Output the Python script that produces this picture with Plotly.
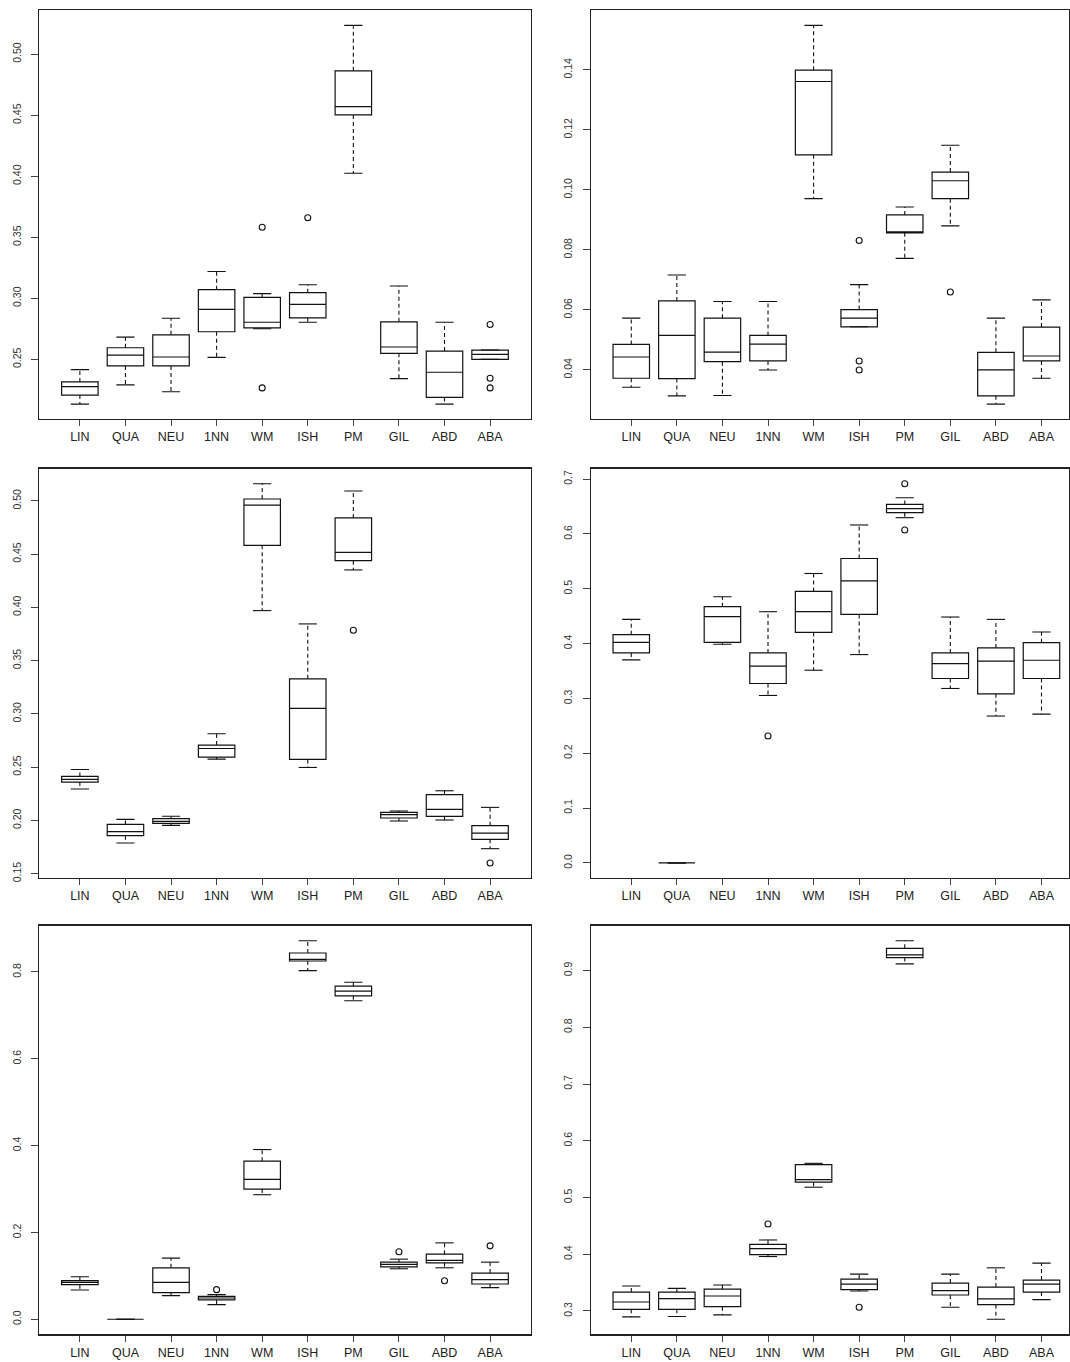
import plotly.graph_objects as go

categories = ["LIN", "QUA", "NEU", "1NN", "WM", "ISH", "PM", "GIL", "ABD", "ABA"]

# ---------------- Panel 1 (top-left) ----------------
p1_lower  = [0.2133, 0.2291, 0.2234, 0.2516, 0.2750, 0.2804, 0.4025, 0.2342, 0.2133, 0.2500]
p1_q1     = [0.2207, 0.2446, 0.2446, 0.2726, 0.2758, 0.2840, 0.4503, 0.2549, 0.2188, 0.2500]
p1_median = [0.2277, 0.2535, 0.2519, 0.2910, 0.2804, 0.2951, 0.4571, 0.2601, 0.2394, 0.2541]
p1_q3     = [0.2315, 0.2595, 0.2701, 0.3071, 0.3008, 0.3046, 0.4864, 0.2807, 0.2568, 0.2576]
p1_upper  = [0.2416, 0.2682, 0.2837, 0.3220, 0.3038, 0.3111, 0.5236, 0.3101, 0.2804, 0.2576]
p1_out_cat = ["WM", "WM", "ISH", "ABA", "ABA", "ABA"]
p1_out_val = [0.3582, 0.2266, 0.3660, 0.2785, 0.2345, 0.2266]
p1_ticks = [0.25, 0.30, 0.35, 0.40, 0.45, 0.50]
p1_ticktext = ["0.25", "0.30", "0.35", "0.40", "0.45", "0.50"]

# ---------------- Panel 2 (top-right) ----------------
p2_lower  = [0.03425, 0.03137, 0.03148, 0.04000, 0.09708, 0.05438, 0.07717, 0.08801, 0.02861, 0.03723]
p2_q1     = [0.03723, 0.03712, 0.04277, 0.04299, 0.11168, 0.05438, 0.08570, 0.09708, 0.03137, 0.04299]
p2_median = [0.04431, 0.05150, 0.04597, 0.04863, 0.13613, 0.05726, 0.08580, 0.10306, 0.04000, 0.04465]
p2_q3     = [0.04852, 0.06301, 0.05726, 0.05150, 0.13989, 0.06013, 0.09166, 0.10593, 0.04586, 0.05427]
p2_upper  = [0.05726, 0.07164, 0.06279, 0.06279, 0.15482, 0.06843, 0.09431, 0.11489, 0.05726, 0.06334]
p2_out_cat = ["ISH", "ISH", "ISH", "GIL"]
p2_out_val = [0.08314, 0.04299, 0.04000, 0.06600]
p2_ticks = [0.04, 0.06, 0.08, 0.10, 0.12, 0.14]
p2_ticktext = ["0.04", "0.06", "0.08", "0.10", "0.12", "0.14"]

# ---------------- Panel 3 (middle-left) ----------------
p3_lower  = [0.2294, 0.1787, 0.1953, 0.2575, 0.3970, 0.2497, 0.4352, 0.1994, 0.2003, 0.1734]
p3_q1     = [0.2360, 0.1856, 0.1972, 0.2594, 0.4583, 0.2572, 0.4439, 0.2022, 0.2038, 0.1822]
p3_median = [0.2385, 0.1894, 0.1991, 0.2675, 0.4961, 0.3051, 0.4517, 0.2053, 0.2103, 0.1881]
p3_q3     = [0.2413, 0.1962, 0.2016, 0.2707, 0.5018, 0.3329, 0.4840, 0.2075, 0.2241, 0.1950]
p3_upper  = [0.2478, 0.2009, 0.2038, 0.2813, 0.5161, 0.3845, 0.5093, 0.2088, 0.2278, 0.2122]
p3_out_cat = ["PM", "ABA"]
p3_out_val = [0.3786, 0.1600]
p3_ticks = [0.15, 0.20, 0.25, 0.30, 0.35, 0.40, 0.45, 0.50]
p3_ticktext = ["0.15", "0.20", "0.25", "0.30", "0.35", "0.40", "0.45", "0.50"]

# ---------------- Panel 4 (middle-right) ----------------
p4_lower  = [0.3703, 0.0, 0.3988, 0.3055, 0.3515, 0.3800, 0.6297, 0.3182, 0.2679, 0.2715]
p4_q1     = [0.3830, 0.0, 0.4024, 0.3273, 0.4206, 0.4533, 0.6388, 0.3364, 0.3085, 0.3364]
p4_median = [0.4024, 0.0, 0.4491, 0.3588, 0.4582, 0.5145, 0.6461, 0.3636, 0.3679, 0.3697]
p4_q3     = [0.4164, 0.0, 0.4673, 0.3830, 0.4952, 0.5552, 0.6539, 0.3830, 0.3921, 0.4018]
p4_upper  = [0.4442, 0.0, 0.4855, 0.4582, 0.5279, 0.6164, 0.6661, 0.4485, 0.4442, 0.4212]
p4_out_cat = ["1NN", "PM", "PM"]
p4_out_val = [0.2315, 0.6915, 0.6073]
p4_ticks = [0.0, 0.1, 0.2, 0.3, 0.4, 0.5, 0.6, 0.7]
p4_ticktext = ["0.0", "0.1", "0.2", "0.3", "0.4", "0.5", "0.6", "0.7"]

# ---------------- Panel 5 (bottom-left) ----------------
p5_lower  = [0.0673, 0.0, 0.0543, 0.0337, 0.2868, 0.8031, 0.7335, 0.1162, 0.1185, 0.0727]
p5_q1     = [0.0795, 0.0, 0.0612, 0.0444, 0.2998, 0.8252, 0.7449, 0.1208, 0.1300, 0.0811]
p5_median = [0.0849, 0.0, 0.0849, 0.0489, 0.3220, 0.8291, 0.7556, 0.1262, 0.1354, 0.0910]
p5_q3     = [0.0887, 0.0, 0.1185, 0.0528, 0.3641, 0.8436, 0.7671, 0.1315, 0.1499, 0.1063]
p5_upper  = [0.0979, 0.0, 0.1407, 0.0566, 0.3908, 0.8719, 0.7763, 0.1384, 0.1759, 0.1315]
p5_out_cat = ["1NN", "GIL", "ABD", "ABA"]
p5_out_val = [0.0681, 0.1553, 0.0887, 0.1690]
p5_ticks = [0.0, 0.2, 0.4, 0.6, 0.8]
p5_ticktext = ["0.0", "0.2", "0.4", "0.6", "0.8"]

# ---------------- Panel 6 (bottom-right) ----------------
p6_lower  = [0.2895, 0.2901, 0.2930, 0.3959, 0.5181, 0.3351, 0.9117, 0.3064, 0.2854, 0.3199]
p6_q1     = [0.3029, 0.3029, 0.3076, 0.3994, 0.5269, 0.3374, 0.9228, 0.3281, 0.3111, 0.3333]
p6_median = [0.3158, 0.3216, 0.3263, 0.4099, 0.5316, 0.3474, 0.9275, 0.3357, 0.3211, 0.3474]
p6_q3     = [0.3333, 0.3333, 0.3386, 0.4175, 0.5579, 0.3561, 0.9392, 0.3491, 0.3421, 0.3544]
p6_upper  = [0.3439, 0.3398, 0.3456, 0.4251, 0.5602, 0.3649, 0.9526, 0.3649, 0.3760, 0.3842]
p6_out_cat = ["1NN", "ISH"]
p6_out_val = [0.4532, 0.3064]
p6_ticks = [0.3, 0.4, 0.5, 0.6, 0.7, 0.8, 0.9]
p6_ticktext = ["0.3", "0.4", "0.5", "0.6", "0.7", "0.8", "0.9"]

# ---------------- layout geometry (page pixels) ----------------
W, H = 1070, 1362
col_px = [(39.3, 530.7), (590.7, 1068.5)]
row_px = [(10.3, 420.5), (470.0, 880.7), (928.3, 1338.3)]
PX_PER_UNIT = 45.58
X_START = 0.11
BOX_W = 0.8
STAPLE_HALF = 0.2

panels = [
    (p1_lower, p1_q1, p1_median, p1_q3, p1_upper, p1_out_cat, p1_out_val, p1_ticks, p1_ticktext),
    (p2_lower, p2_q1, p2_median, p2_q3, p2_upper, p2_out_cat, p2_out_val, p2_ticks, p2_ticktext),
    (p3_lower, p3_q1, p3_median, p3_q3, p3_upper, p3_out_cat, p3_out_val, p3_ticks, p3_ticktext),
    (p4_lower, p4_q1, p4_median, p4_q3, p4_upper, p4_out_cat, p4_out_val, p4_ticks, p4_ticktext),
    (p5_lower, p5_q1, p5_median, p5_q3, p5_upper, p5_out_cat, p5_out_val, p5_ticks, p5_ticktext),
    (p6_lower, p6_q1, p6_median, p6_q3, p6_upper, p6_out_cat, p6_out_val, p6_ticks, p6_ticktext),
]

fig = go.Figure()
layout = dict(
    width=W, height=H,
    margin=dict(l=0, r=0, t=0, b=0),
    paper_bgcolor="white", plot_bgcolor="white",
    showlegend=False,
)

pos = [categories.index(c) + 1 for c in categories]

for k, (lo, q1, med, q3, up, ocat, oval, ticks, ticktext) in enumerate(panels):
    idx = k + 1
    xa = "x" if idx == 1 else f"x{idx}"
    ya = "y" if idx == 1 else f"y{idx}"
    col = k % 2
    row = k // 2
    x0, x1 = col_px[col]
    y0, y1 = row_px[row]

    wx, wy = [], []
    sx, sy = [], []
    for p, a, b, c, d in zip(pos, lo, q1, q3, up):
        wx += [p, p, None, p, p, None]
        wy += [c, d, None, b, a, None]
        sx += [p - STAPLE_HALF, p + STAPLE_HALF, None, p - STAPLE_HALF, p + STAPLE_HALF, None]
        sy += [d, d, None, a, a, None]

    fig.add_trace(go.Box(
        x=pos, q1=q1, median=med, q3=q3, lowerfence=q1, upperfence=q3,
        width=BOX_W, fillcolor="white", line=dict(color="#111111", width=1.2),
        whiskerwidth=0, boxpoints=False, hoverinfo="skip",
        xaxis=xa, yaxis=ya, showlegend=False,
    ))
    fig.add_trace(go.Scatter(
        x=wx, y=wy, mode="lines", line=dict(color="#111111", width=1.1, dash="4px,3px"),
        hoverinfo="skip", xaxis=xa, yaxis=ya, showlegend=False,
    ))
    fig.add_trace(go.Scatter(
        x=sx, y=sy, mode="lines", line=dict(color="#111111", width=1.1),
        hoverinfo="skip", xaxis=xa, yaxis=ya, showlegend=False,
    ))
    fig.add_trace(go.Scatter(
        x=[categories.index(c) + 1 for c in ocat], y=oval, mode="markers",
        marker=dict(symbol="circle-open", size=6, color="#111111", line=dict(width=1.1)),
        hoverinfo="skip", xaxis=xa, yaxis=ya, showlegend=False,
    ))

    allv = lo + q1 + med + q3 + up + oval
    vmin, vmax = min(allv), max(allv)
    pad = 0.04 * (vmax - vmin)

    x_end = X_START + (x1 - x0) / PX_PER_UNIT
    layout["xaxis" if idx == 1 else f"xaxis{idx}"] = dict(
        domain=[x0 / W, x1 / W], range=[X_START, x_end], anchor=ya,
        tickvals=pos, ticktext=categories, ticks="outside", ticklen=6,
        tickcolor="#444444", tickwidth=1,
        showline=True, mirror=True, linecolor="#222222", linewidth=1.2,
        showgrid=False, zeroline=False,
        tickfont=dict(family="Liberation Sans, Arial", size=12.5, color="#222222"),
    )
    layout["yaxis" if idx == 1 else f"yaxis{idx}"] = dict(
        domain=[1 - y1 / H, 1 - y0 / H], range=[vmin - pad, vmax + pad], anchor=xa,
        tickvals=ticks, ticktext=ticktext, tickangle=-90, ticks="outside", ticklen=7,
        tickcolor="#444444", tickwidth=1, ticklabelstandoff=6,
        showline=True, mirror=True, linecolor="#222222", linewidth=1.2,
        showgrid=False, zeroline=False,
        tickfont=dict(family="Liberation Sans Narrow, Liberation Sans, Arial", size=10.5, color="#333333"),
    )

fig.update_layout(**layout)
fig.write_html(
    "out.html",
    config={"displayModeBar": False, "staticPlot": True},
    post_script="document.body.style.margin='0px';document.body.style.overflow='hidden';",
)
